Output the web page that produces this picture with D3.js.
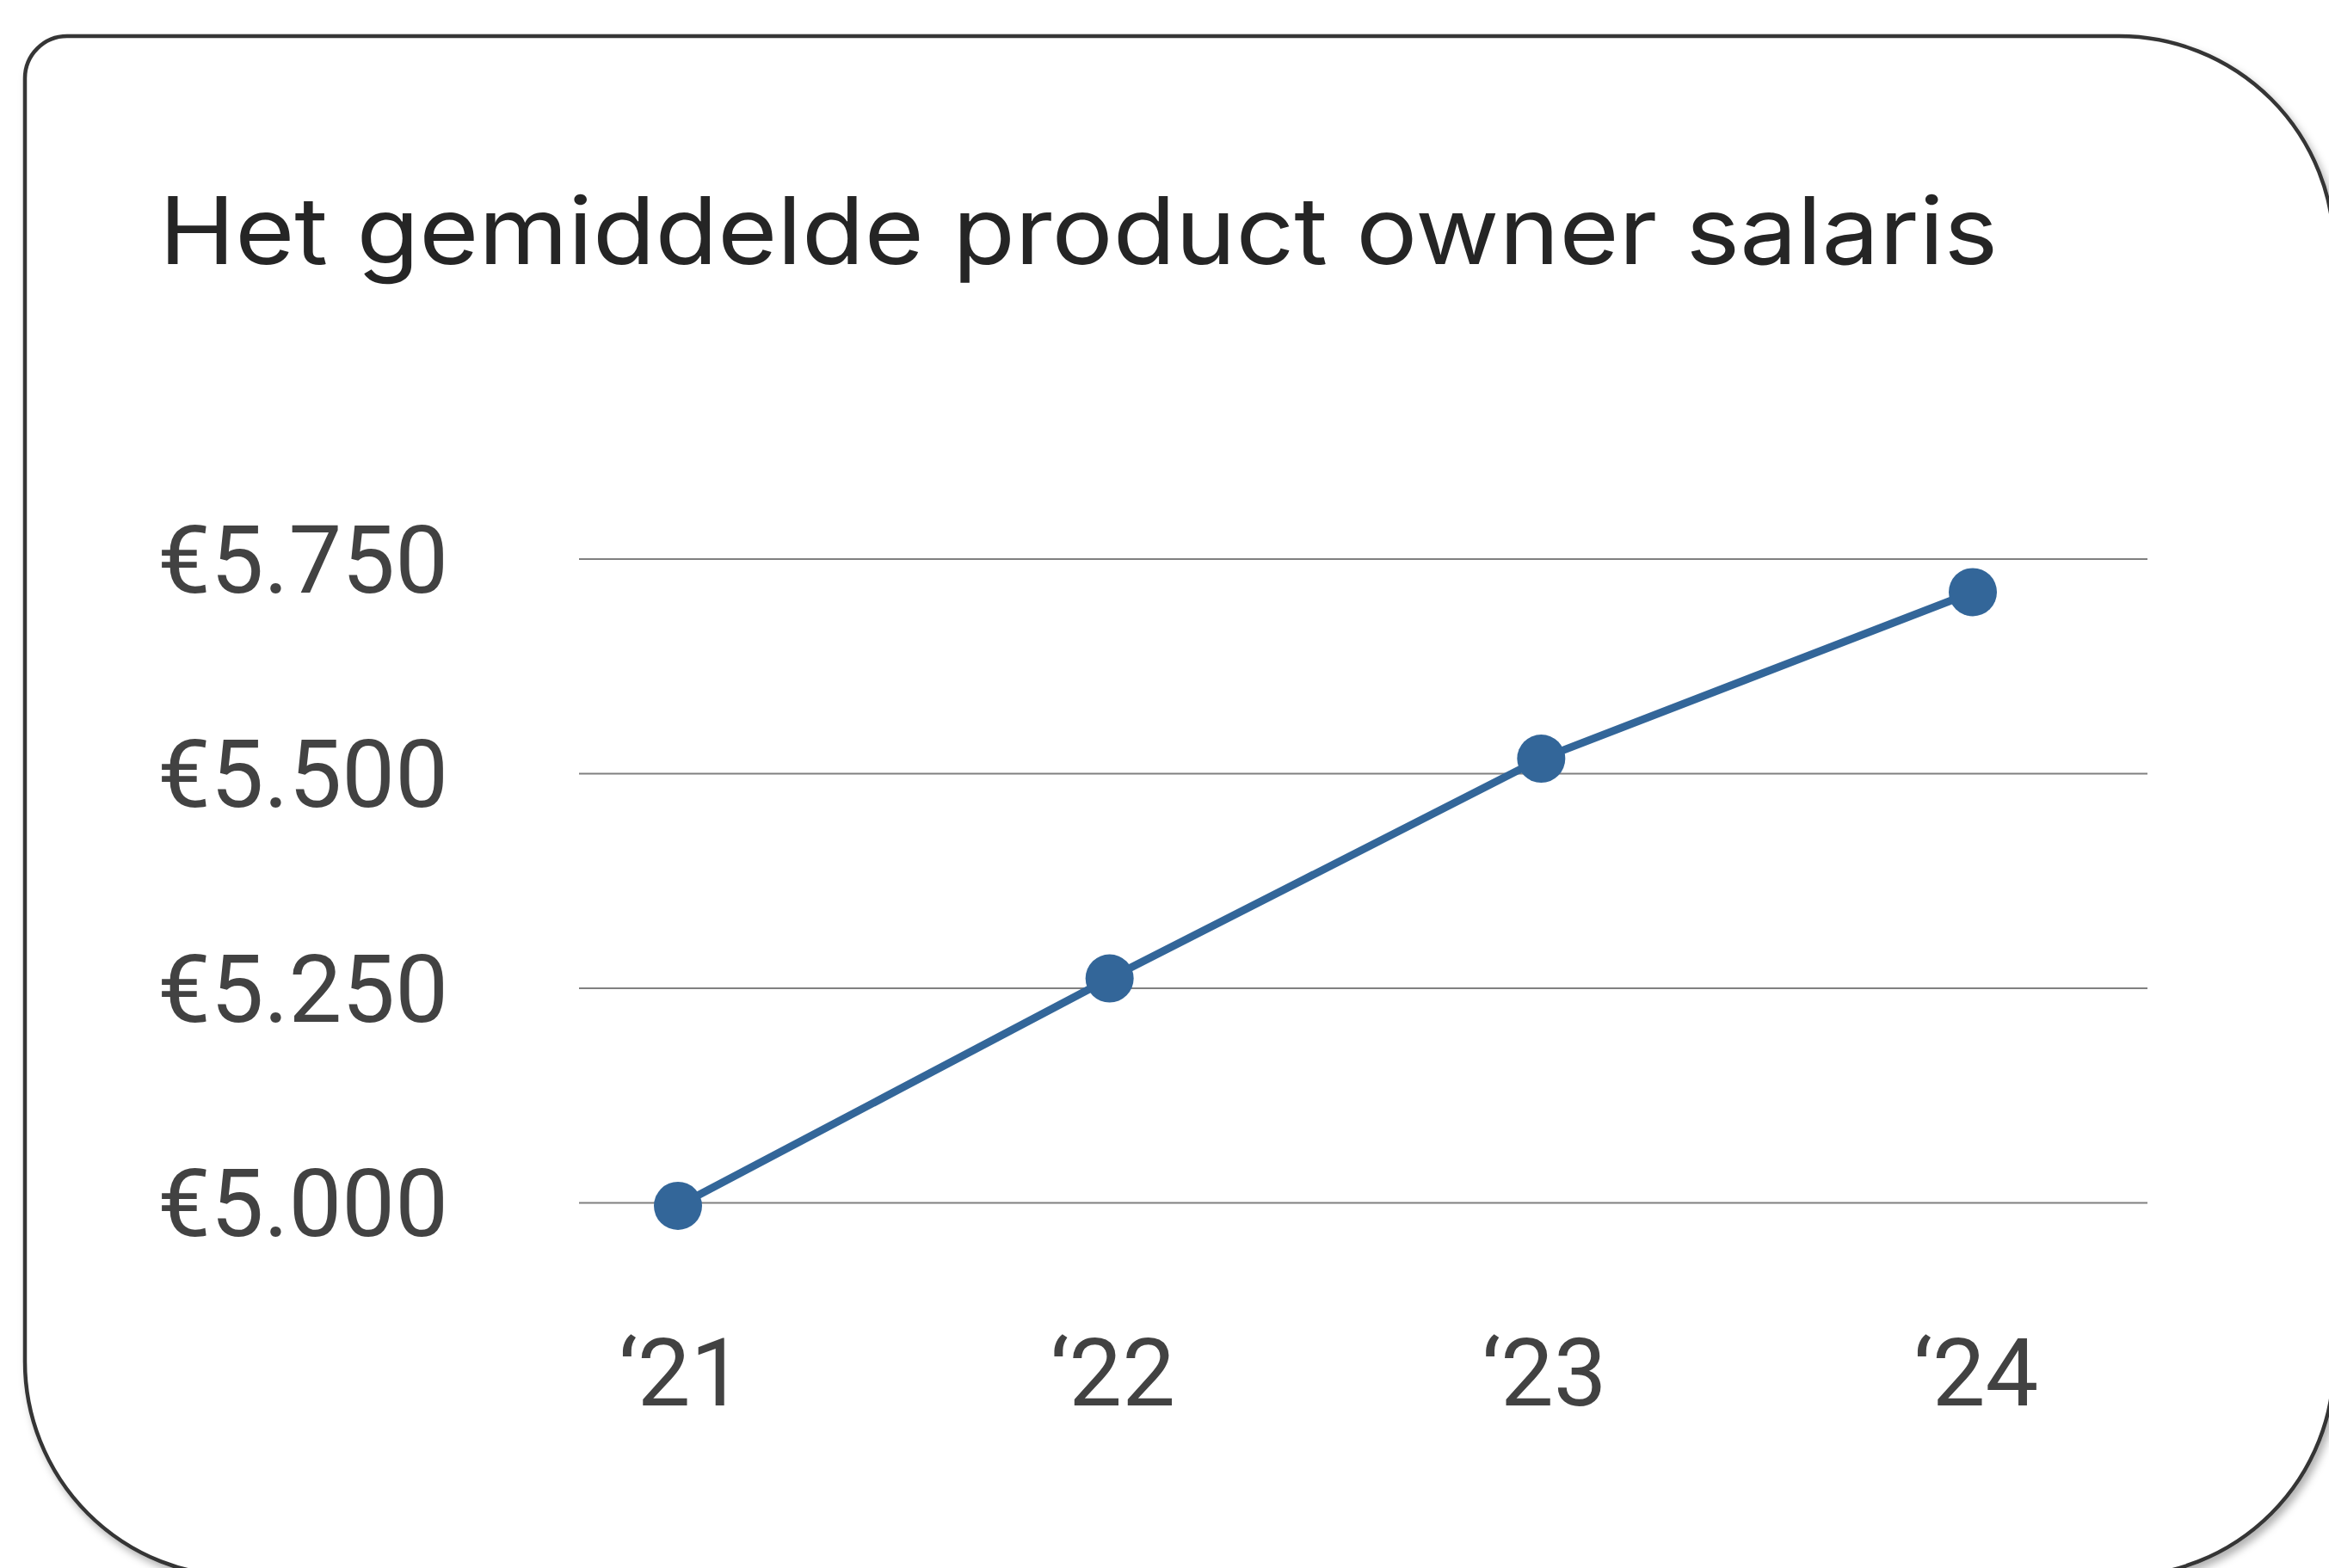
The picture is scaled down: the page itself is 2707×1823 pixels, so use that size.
<!DOCTYPE html>
<html>
<head>
<meta charset="utf-8">
<script src="https://cdn.jsdelivr.net/npm/d3@7"></script>
<style>
  html, body { margin: 0; padding: 0; background: #fff; }
  svg { display: block; }
</style>
</head>
<body>
<div id="chart"></div>
<script>
// Data
var years = ["\u201821", "\u201822", "\u201823", "\u201824"];
var salaries = [4996, 5261, 5517, 5711];
var yTicks = [5000, 5250, 5500, 5750];
var yTickLabels = ["\u20ac5.000", "\u20ac5.250", "\u20ac5.500", "\u20ac5.750"];
var title = "Het gemiddelde product owner salaris";

var width = 2707;
var height = 1823;

var svg = d3.select("#chart")
    .append("svg")
    .attr("width", width)
    .attr("height", height);

// Drop shadow for the card
var defs = svg.append("defs");
var shadow = defs.append("filter")
    .attr("id", "shadow")
    .attr("x", "-5%").attr("y", "-5%")
    .attr("width", "115%").attr("height", "115%");
shadow.append("feDropShadow")
    .attr("dx", 4)
    .attr("dy", 6)
    .attr("stdDeviation", 5)
    .attr("flood-color", "#000")
    .attr("flood-opacity", 0.3);

// Card with one small and three big rounded corners
var cx0 = 29, cy0 = 42, cx1 = 2713, cy1 = 1833;
var rSmall = 49, rBig = 250;
var card = d3.path();
card.moveTo(cx0 + rSmall, cy0);
card.lineTo(cx1 - rBig, cy0);
card.arcTo(cx1, cy0, cx1, cy0 + rBig, rBig);
card.lineTo(cx1, cy1 - rBig);
card.arcTo(cx1, cy1, cx1 - rBig, cy1, rBig);
card.lineTo(cx0 + rBig, cy1);
card.arcTo(cx0, cy1, cx0, cy1 - rBig, rBig);
card.lineTo(cx0, cy0 + rSmall);
card.arcTo(cx0, cy0, cx0 + rSmall, cy0, rSmall);
card.closePath();

svg.append("path")
    .attr("d", card.toString())
    .attr("fill", "#fff")
    .attr("stroke", "#353535")
    .attr("stroke-width", 4.5)
    .attr("filter", "url(#shadow)");

// Title
svg.append("text")
    .attr("x", 185)
    .attr("y", 307)
    .attr("textLength", 2137)
    .attr("lengthAdjust", "spacingAndGlyphs")
    .style("font-family", "Inter, 'Open Sans', sans-serif")
    .style("font-size", "108px")
    .style("font-weight", 400)
    .style("fill", "#252525")
    .text(title);

// Scales
var xScale = d3.scalePoint()
    .domain(years)
    .range([788, 2293]);

var yScale = d3.scaleLinear()
    .domain([5000, 5750])
    .range([1398, 649.5]);

var gridLeft = 673, gridRight = 2496;

// Y axis: gridlines + labels
var yAxis = svg.append("g")
    .attr("transform", "translate(" + gridRight + ",0)")
    .call(d3.axisLeft(yScale)
        .tickValues(yTicks)
        .tickSize(gridRight - gridLeft)
        .tickPadding(152)
        .tickFormat(function (d, i) { return yTickLabels[i]; }));

yAxis.select(".domain").remove();
yAxis.selectAll(".tick line")
    .attr("stroke", "#808080")
    .attr("stroke-width", 2.2);
yAxis.selectAll(".tick text")
    .attr("dy", "0.35em")
    .style("font-family", "Roboto, sans-serif")
    .style("font-size", "110px")
    .style("fill", "#424242");

// X axis labels
var xAxis = svg.append("g")
    .attr("transform", "translate(0,1634)")
    .call(d3.axisBottom(xScale).tickSize(0).tickPadding(0));

xAxis.select(".domain").remove();
xAxis.selectAll(".tick text")
    .attr("y", 0)
    .attr("dy", 0)
    .attr("dx", 3)
    .style("font-family", "Roboto, sans-serif")
    .style("font-size", "110px")
    .style("fill", "#424242");

// Line
var line = d3.line()
    .x(function (d, i) { return xScale(years[i]); })
    .y(function (d) { return yScale(d); });

svg.append("path")
    .datum(salaries)
    .attr("d", line)
    .attr("fill", "none")
    .attr("stroke", "#336699")
    .attr("stroke-width", 9);

// Points
svg.selectAll("circle.pt")
    .data(salaries)
    .enter()
    .append("circle")
    .attr("class", "pt")
    .attr("cx", function (d, i) { return xScale(years[i]); })
    .attr("cy", function (d) { return yScale(d); })
    .attr("r", 28)
    .style("fill", "#336699");
</script>
</body>
</html>
